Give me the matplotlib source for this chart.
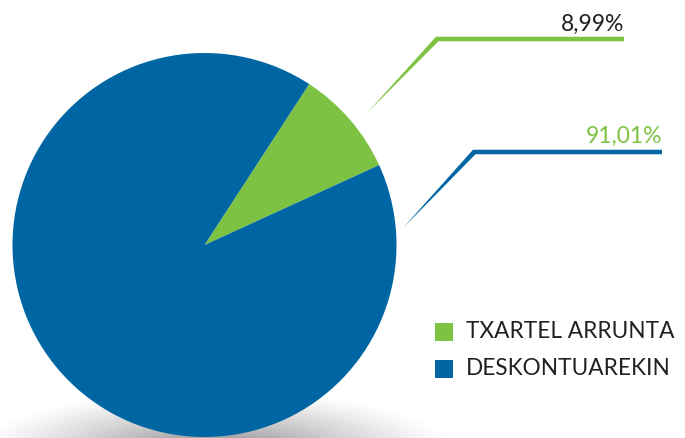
import numpy as np
import matplotlib
matplotlib.use("Agg")
import matplotlib.pyplot as plt
from matplotlib.patches import Polygon, Rectangle

# ---- data ----
categories = ["TXARTEL ARRUNTA", "DESKONTUAREKIN"]
values = [8.99, 91.01]
labels = ["8,99%", "91,01%"]

# ---- style ----
GREEN = "#7dc242"
BLUE = "#0066a3"
DARK = "#231f20"
colors = [GREEN, BLUE]
label_colors = [DARK, GREEN]
line_colors = [GREEN, BLUE]

W, H = 685, 438
fig = plt.figure(figsize=(W / 100, H / 100), dpi=100)
ax = fig.add_axes([0, 0, 1, 1])

def py(y):  # convert top-down pixel to axes y
    return H - y

# shadow under the pie
sx, sy = 215, 450
ax_w, ax_h = 240, 60
xs = np.arange(W) + 0.5
ys = np.arange(H) + 0.5
X, Y = np.meshgrid(xs, ys)
d = np.sqrt(((X - sx) / ax_w) ** 2 + ((Y - sy) / ax_h) ** 2)
alpha = np.clip(1 - d, 0, 1) ** 1.2 * 0.85
img = np.zeros((H, W, 4))
img[..., :3] = 0.45
img[..., 3] = alpha
ax.imshow(img, extent=(0, W, 0, H), origin="upper", zorder=0, interpolation="bilinear")

# pie
cx, cy, R = 204.5, 245, 192
start = 24.6
ax.pie(values, colors=colors, startangle=start, counterclock=True,
       center=(cx, py(cy)), radius=R, frame=True,
       wedgeprops=dict(linewidth=0, zorder=2))
ax.set_xlim(0, W)
ax.set_ylim(0, H)
ax.set_aspect("auto")
ax.axis("off")

# leader lines (layout)
leaders = [
    dict(tip=(367, 113), knee=(437, 39), end=624, th=4.5, text_y=31),
    dict(tip=(403, 228), knee=(474, 152), end=662, th=4.5, text_y=143),
]
for i, L in enumerate(leaders):
    tx, ty = L["tip"]
    kx, ky = L["knee"]
    t = L["th"]
    poly = [(tx, py(ty)), (kx - 1, py(ky - t / 2)), (L["end"], py(ky - t / 2)),
            (L["end"], py(ky + t / 2)), (kx + 1.5, py(ky + t / 2))]
    ax.add_patch(Polygon(poly, closed=True, facecolor=line_colors[i],
                         edgecolor="none", zorder=3))
    ax.text(L["end"], py(L["text_y"]), labels[i], color=label_colors[i],
            fontsize=16.5, family="Lato", ha="right", va="baseline", zorder=4)

# legend
leg_x, leg_y0, leg_dy, sq = 435, 323, 37, 18
for i, cat in enumerate(categories):
    y = leg_y0 + i * leg_dy
    ax.add_patch(Rectangle((leg_x, py(y + sq)), sq, sq, facecolor=colors[i],
                           edgecolor="none", zorder=3))
    ax.text(466, py(y + sq / 2 - 0.5), cat, color=DARK, fontsize=16.3, family="Lato",
            ha="left", va="center", zorder=4)

fig.savefig("out.png", dpi=100)
